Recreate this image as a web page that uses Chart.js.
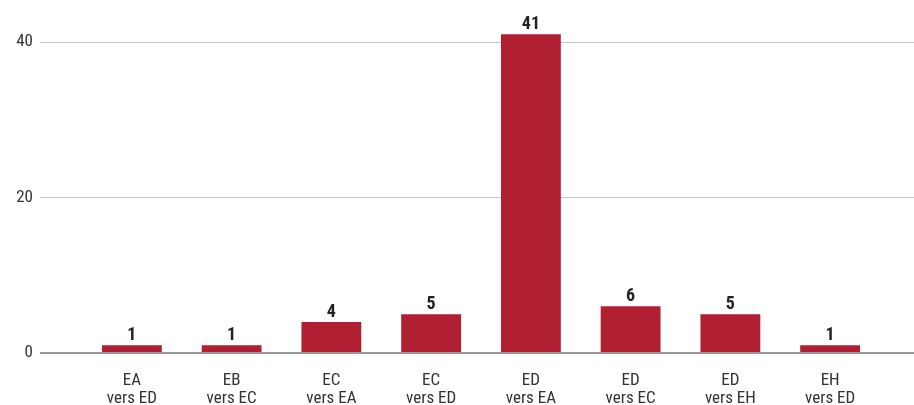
<!DOCTYPE html>
<html>
<head>
<meta charset="utf-8">
<script src="https://cdn.jsdelivr.net/npm/chart.js@4"></script>
<style>
  html, body { margin: 0; padding: 0; background: #fff; }
  #wrap { width: 914px; height: 405px; }
</style>
</head>
<body>
<div id="wrap"><canvas id="myBarChart"></canvas></div>
<script>
// categories (two lines each)
var categories = [
  ['EA', 'vers ED'], ['EB', 'vers EC'], ['EC', 'vers EA'], ['EC', 'vers ED'],
  ['ED', 'vers EA'], ['ED', 'vers EC'], ['ED', 'vers EH'], ['EH', 'vers ED']
];
// values
var counts = [1, 1, 4, 5, 41, 6, 5, 1];
// y ticks
var yTicks = [0, 20, 40];

var FONT = '"Roboto Condensed", "Liberation Sans Narrow", "DejaVu Sans Condensed", Roboto, sans-serif';

// labels above bars
var barValues = {
  id: 'barValues',
  afterDatasetsDraw: function(chart) {
    var c = chart.ctx;
    var meta = chart.getDatasetMeta(0);
    c.save();
    c.font = 'bold 18px ' + FONT;
    c.fillStyle = '#222';
    c.textAlign = 'center';
    c.textBaseline = 'alphabetic';
    meta.data.forEach(function(bar, i) {
      c.fillText(counts[i], bar.x, bar.y - 5);
    });
    c.restore();
  }
};

function gridColor(ctx) {
  return ctx.tick && ctx.tick.value === 0 ? '#9a9a9a' : '#c4c4c4';
}
function gridWidth(ctx) {
  return ctx.tick && ctx.tick.value === 0 ? 2 : 1;
}

var ctx = document.getElementById('myBarChart');
var chart = new Chart(ctx, {
  type: 'bar',
  data: {
    labels: categories,
    datasets: [{
      data: counts,
      backgroundColor: '#b01f32',
      borderWidth: 0,
      categoryPercentage: 0.6,
      barPercentage: 1
    }]
  },
  options: {
    responsive: true,
    maintainAspectRatio: false,
    animation: false,
    layout: { padding: { top: 11, left: 0, right: 0, bottom: 0 } },
    plugins: {
      legend: { display: false },
      tooltip: { enabled: false }
    },
    scales: {
      x: {
        afterFit: function(scale) { scale.height = 52; },
        grid: { display: false },
        border: { display: false },
        ticks: {
          color: '#333',
          padding: 11,
          maxRotation: 0,
          autoSkip: false,
          font: { family: FONT, size: 17, lineHeight: '18px' }
        }
      },
      y: {
        min: 0,
        max: 44,
        afterFit: function(scale) {
          scale.width = 82;
          scale.paddingTop = 0;
          scale.paddingBottom = 0;
        },
        afterBuildTicks: function(scale) {
          scale.ticks = yTicks.map(function(v) { return { value: v }; });
        },
        border: { display: false },
        grid: {
          color: gridColor,
          lineWidth: gridWidth,
          tickLength: 42,
          tickColor: gridColor
        },
        ticks: {
          color: '#333',
          padding: 7,
          font: { family: FONT, size: 17 }
        }
      },
      yRight: {
        position: 'right',
        min: 0,
        max: 44,
        afterFit: function(scale) {
          scale.width = 34;
          scale.paddingTop = 0;
          scale.paddingBottom = 0;
        },
        afterBuildTicks: function(scale) {
          scale.ticks = yTicks.map(function(v) { return { value: v }; });
        },
        border: { display: false },
        grid: {
          drawOnChartArea: false,
          color: gridColor,
          lineWidth: gridWidth,
          tickLength: 34,
          tickColor: gridColor
        },
        ticks: { display: false }
      }
    }
  },
  plugins: [barValues]
});
</script>
</body>
</html>
